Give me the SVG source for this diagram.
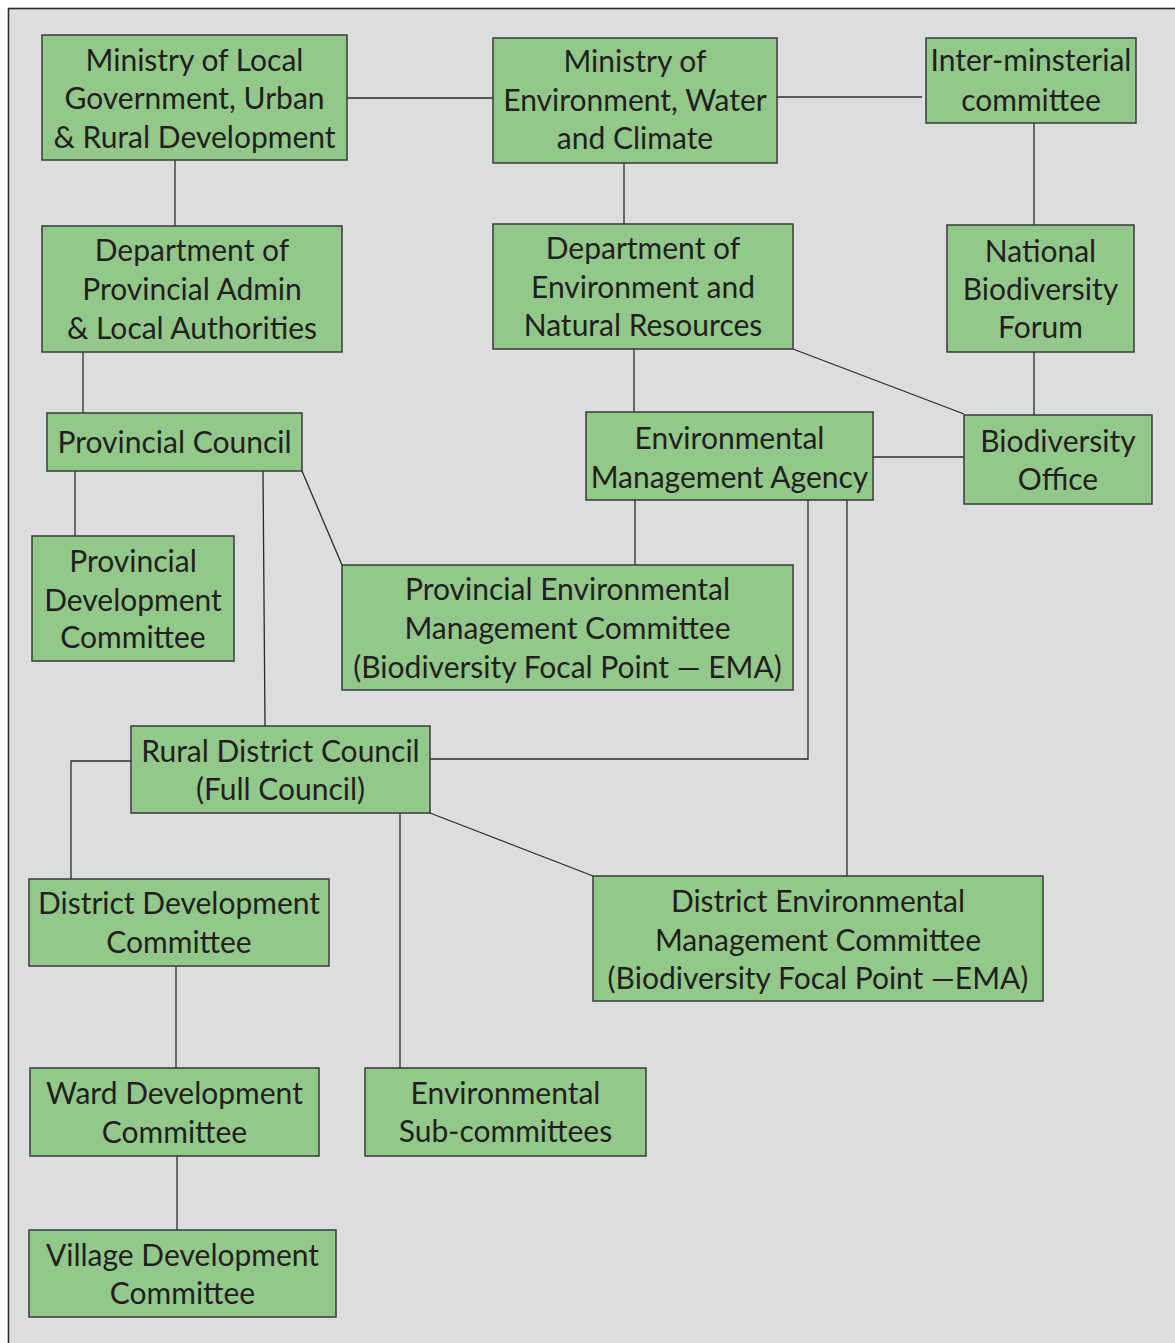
<svg xmlns="http://www.w3.org/2000/svg" width="1175" height="1343" viewBox="0 0 1175 1343">
<style>
.bg{fill:#dcdddf;stroke:#2b2b2b;stroke-width:1.6}
.box{fill:#92c889;stroke:#3a3a3a;stroke-width:1.5}
.t{font-family:"Lato","Open Sans","Liberation Sans",sans-serif;font-size:30px;fill:#231f20;text-anchor:middle}
.c{stroke:#2b2b2b;stroke-width:1.3;fill:none}
</style>
<rect x="0" y="0" width="1175" height="1343" fill="#ffffff"/>
<rect class="bg" x="8.5" y="8.5" width="1180" height="1350"/>
<g id="connectors">
<line class="c" x1="347" y1="98" x2="493" y2="98"/>
<line class="c" x1="777" y1="97" x2="922" y2="97"/>
<line class="c" x1="175" y1="160" x2="175" y2="226"/>
<line class="c" x1="624" y1="163" x2="624" y2="224"/>
<line class="c" x1="1034" y1="123" x2="1034" y2="225"/>
<line class="c" x1="83" y1="352" x2="83" y2="418"/>
<line class="c" x1="634" y1="349" x2="634" y2="412"/>
<line class="c" x1="793" y1="349" x2="964" y2="414"/>
<line class="c" x1="1034" y1="352" x2="1034" y2="415"/>
<line class="c" x1="873" y1="457" x2="964" y2="457"/>
<line class="c" x1="75" y1="471" x2="75" y2="536"/>
<line class="c" x1="263" y1="471" x2="265" y2="726"/>
<line class="c" x1="302" y1="471" x2="342" y2="565"/>
<line class="c" x1="635" y1="500" x2="635" y2="565"/>
<polyline class="c" points="808,500 808,759 430,759"/>
<line class="c" x1="847" y1="500" x2="847" y2="876"/>
<polyline class="c" points="131,761 71,761 71,879"/>
<line class="c" x1="400" y1="813" x2="400" y2="1068"/>
<line class="c" x1="430" y1="813" x2="593" y2="876"/>
<line class="c" x1="176" y1="966" x2="176" y2="1068"/>
<line class="c" x1="177" y1="1156" x2="177" y2="1230"/>
</g>
<g id="n-min-local">
<rect class="box" x="42" y="35" width="305" height="125"/>
<text class="t" x="194.5" y="71">Ministry of Local</text>
<text class="t" x="194.5" y="109">Government, Urban</text>
<text class="t" x="194.5" y="148">&amp; Rural Development</text>
</g>
<g id="n-min-env">
<rect class="box" x="493" y="38" width="284" height="125"/>
<text class="t" x="635" y="72">Ministry of</text>
<text class="t" x="635" y="111">Environment, Water</text>
<text class="t" x="635" y="149">and Climate</text>
</g>
<g id="n-inter">
<rect class="box" x="926" y="38" width="210" height="85"/>
<text class="t" x="1031" y="71">Inter-minsterial</text>
<text class="t" x="1031" y="111">committee</text>
</g>
<g id="n-dept-prov">
<rect class="box" x="42" y="226" width="300" height="126"/>
<text class="t" x="192" y="261">Department of</text>
<text class="t" x="192" y="300">Provincial Admin</text>
<text class="t" x="192" y="339">&amp; Local Authorities</text>
</g>
<g id="n-dept-env">
<rect class="box" x="493" y="224" width="300" height="125"/>
<text class="t" x="643" y="259">Department of</text>
<text class="t" x="643" y="298">Environment and</text>
<text class="t" x="643" y="336">Natural Resources</text>
</g>
<g id="n-nbf">
<rect class="box" x="947" y="225" width="187" height="127"/>
<text class="t" x="1040.5" y="262">National</text>
<text class="t" x="1040.5" y="300">Biodiversity</text>
<text class="t" x="1040.5" y="338">Forum</text>
</g>
<g id="n-prov-council">
<rect class="box" x="47" y="413" width="255" height="58"/>
<text class="t" x="174.5" y="453">Provincial Council</text>
</g>
<g id="n-ema">
<rect class="box" x="586" y="412" width="287" height="88"/>
<text class="t" x="729.5" y="449">Environmental</text>
<text class="t" x="729.5" y="488">Management Agency</text>
</g>
<g id="n-bio-office">
<rect class="box" x="964" y="415" width="188" height="89"/>
<text class="t" x="1058" y="452">Biodiversity</text>
<text class="t" x="1058" y="490">Office</text>
</g>
<g id="n-pdc">
<rect class="box" x="32" y="536" width="202" height="125"/>
<text class="t" x="133" y="572">Provincial</text>
<text class="t" x="133" y="611">Development</text>
<text class="t" x="133" y="648">Committee</text>
</g>
<g id="n-pemc">
<rect class="box" x="342" y="565" width="451" height="125"/>
<text class="t" x="567.5" y="600">Provincial Environmental</text>
<text class="t" x="567.5" y="639">Management Committee</text>
<text class="t" x="567.5" y="678">(Biodiversity Focal Point — EMA)</text>
</g>
<g id="n-rdc">
<rect class="box" x="131" y="726" width="299" height="87"/>
<text class="t" x="280.5" y="762">Rural District Council</text>
<text class="t" x="280.5" y="800">(Full Council)</text>
</g>
<g id="n-ddc">
<rect class="box" x="29" y="879" width="300" height="87"/>
<text class="t" x="179" y="914">District Development</text>
<text class="t" x="179" y="953">Committee</text>
</g>
<g id="n-demc">
<rect class="box" x="593" y="876" width="450" height="125"/>
<text class="t" x="818" y="912">District Environmental</text>
<text class="t" x="818" y="951">Management Committee</text>
<text class="t" x="818" y="989">(Biodiversity Focal Point —EMA)</text>
</g>
<g id="n-wdc">
<rect class="box" x="30" y="1068" width="289" height="88"/>
<text class="t" x="174.5" y="1104">Ward Development</text>
<text class="t" x="174.5" y="1143">Committee</text>
</g>
<g id="n-env-sub">
<rect class="box" x="365" y="1068" width="281" height="88"/>
<text class="t" x="505.5" y="1104">Environmental</text>
<text class="t" x="505.5" y="1142">Sub-committees</text>
</g>
<g id="n-vdc">
<rect class="box" x="29" y="1230" width="307" height="87"/>
<text class="t" x="182.5" y="1266">Village Development</text>
<text class="t" x="182.5" y="1304">Committee</text>
</g>
</svg>
